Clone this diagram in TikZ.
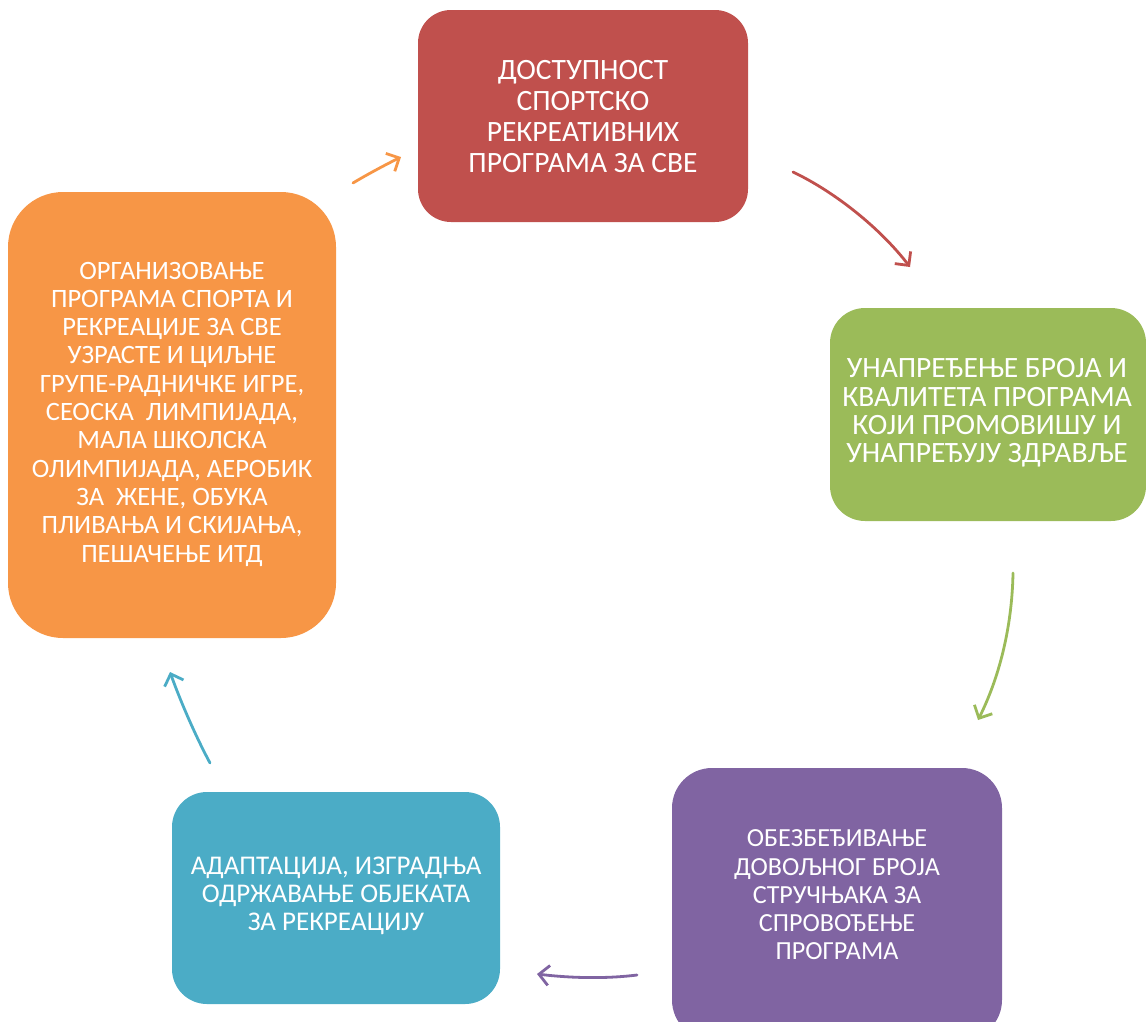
\documentclass[tikz,border=0pt]{standalone}
\usepackage{fontspec}
\setmainfont{Carlito}
\usetikzlibrary{arrows.meta}
\definecolor{cred}{HTML}{C0504D}
\definecolor{cgreen}{HTML}{9BBB59}
\definecolor{corange}{HTML}{F79646}
\definecolor{cpurple}{HTML}{8064A2}
\definecolor{ccyan}{HTML}{4BACC6}
\begin{document}
\begin{tikzpicture}[x=1pt,y=-1pt,
  lbl/.style={text=white, align=center, inner sep=0pt, font=\fontsize{#1}{28.3}\selectfont},
  cyc/.style={draw=#1, line width=2.8pt, line cap=round, -{Straight Barb[length=10pt,width=20pt,line width=2.8pt]}}
]
\useasboundingbox (0,0) rectangle (1146,1021);
% boxes
\fill[cred, rounded corners=33] (418,10) rectangle (748,222);
\node[text=white, align=center, inner sep=0pt, font=\fontsize{29.5}{31}\selectfont] (red) at (583,117) {ДОСТУПНОСТ\\СПОРТСКО\\РЕКРЕАТИВНИХ\\ПРОГРАМА ЗА СВЕ};
\fill[cgreen, rounded corners=35] (830,308) rectangle (1146,521);
\node[lbl=29.5] (green) at (987,413) {УНАПРЕЂЕЊЕ БРОЈА И\\КВАЛИТЕТА ПРОГРАМА\\КОЈИ ПРОМОВИШУ И\\УНАПРЕЂУЈУ ЗДРАВЉЕ};
\fill[corange, rounded corners=55] (8,192) rectangle (336,638);
\node[lbl=26.5] (orange) at (172,414) {ОРГАНИЗОВАЊЕ\\ПРОГРАМА СПОРТА И\\РЕКРЕАЦИЈЕ ЗА СВЕ\\УЗРАСТЕ И ЦИЉНЕ\\ГРУПЕ-РАДНИЧКЕ ИГРЕ,\\СЕОСКА\ \ ЛИМПИЈАДА,\\МАЛА ШКОЛСКА\\ОЛИМПИЈАДА, АЕРОБИК\\ЗА\ \ ЖЕНЕ, ОБУКА\\ПЛИВАЊА И СКИЈАЊА,\\ПЕШАЧЕЊЕ ИТД};
\fill[cpurple, rounded corners=40] (672,768) rectangle (1002,1040);
\node[lbl=26.1] (purple) at (837,895) {ОБЕЗБЕЂИВАЊЕ\\ДОВОЉНОГ БРОЈА\\СТРУЧЊАКА ЗА\\СПРОВОЂЕЊЕ\\ПРОГРАМА};
\fill[ccyan, rounded corners=35] (172,792) rectangle (500,1004);
\node[lbl=27] (cyan) at (336,896) {АДАПТАЦИЈА, ИЗГРАДЊА\\ОДРЖАВАЊЕ ОБЈЕКАТА\\ЗА РЕКРЕАЦИЈУ};
% arrow end points
\coordinate (o1) at (353,183); \coordinate (o2) at (401,157);
\coordinate (r1) at (793,172); \coordinate (r2) at (910,267);
\coordinate (g1) at (1013,573); \coordinate (g2) at (978,720);
\coordinate (p1) at (637,975); \coordinate (p2) at (537,974);
\coordinate (c1) at (210,763); \coordinate (c2) at (170,672);
\draw[cyc=corange] (o1) .. controls (368,174) and (385,165) .. (o2);
\draw[cyc=cred] (r1) .. controls (835,192) and (880,228) .. (r2);
\draw[cyc=cgreen] (g1) .. controls (1012,630) and (998,680) .. (g2);
\draw[cyc=cpurple] (p1) .. controls (605,979) and (570,978) .. (p2);
\draw[cyc=ccyan] (c1) .. controls (195,735) and (180,700) .. (c2);
\end{tikzpicture}
\end{document}
